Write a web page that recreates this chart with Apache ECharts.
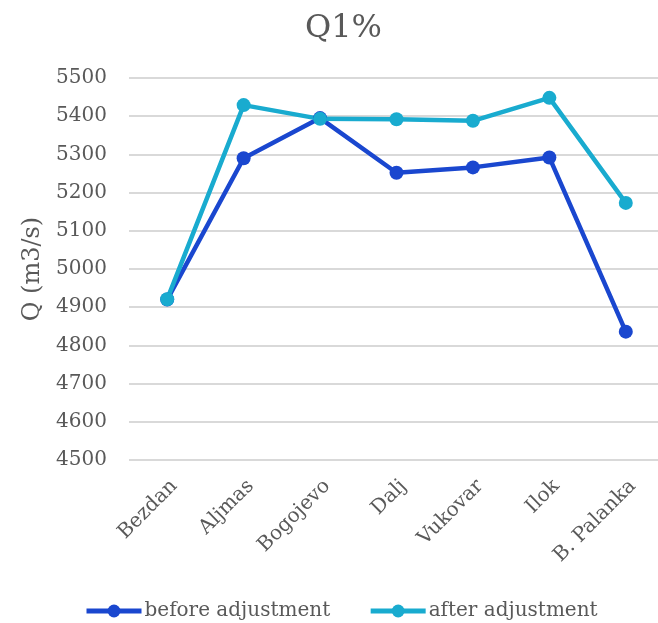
<!DOCTYPE html>
<html>
<head>
<meta charset="utf-8">
<script src="https://cdn.jsdelivr.net/npm/echarts@6/dist/echarts.min.js"></script>
<style>
  html, body { margin: 0; padding: 0; background: #fff; }
  #chart { width: 658px; height: 623px; }
</style>
</head>
<body>
<div id="chart"></div>
<script>
// stations along the river
const stations = ['Bezdan', 'Aljmas', 'Bogojevo', 'Dalj', 'Vukovar', 'Ilok', 'B. Palanka'];
// Q1% discharge, m3/s
const beforeAdjustment = [4920, 5290, 5395, 5252, 5266, 5292, 4836];
const afterAdjustment = [4921, 5429, 5393, 5392, 5388, 5448, 5173];
const yTicks = { min: 4500, max: 5500, step: 100 };

const font = 'DejaVu Serif';
const textColor = '#595959';

let chart = echarts.init(document.getElementById('chart'));
let option = {
  animation: false,
  title: {
    text: 'Q1%',
    left: 300,
    top: 8,
    textStyle: { fontFamily: font, fontSize: 32, fontWeight: 'normal', color: textColor }
  },
  legend: {
    left: 79,
    top: 596,
    itemWidth: 55,
    itemHeight: 16,
    itemGap: 38,
    lineStyle: { width: 5 },
    textStyle: { fontFamily: font, fontSize: 20, color: textColor, padding: [0, 0, 0, -2] }
  },
  grid: {
    left: 129,
    top: 78,
    width: 535,
    bottom: 163,
    outerBoundsMode: 'none'
  },
  xAxis: {
    type: 'category',
    data: stations,
    boundaryGap: true,
    axisLine: { show: false },
    axisTick: { show: false },
    axisLabel: {
      rotate: 45,
      margin: 16,
      verticalAlign: 'top',
      fontFamily: font,
      fontSize: 20,
      color: textColor
    }
  },
  yAxis: {
    type: 'value',
    min: yTicks.min,
    max: yTicks.max,
    interval: yTicks.step,
    name: 'Q (m3/s)',
    nameLocation: 'middle',
    nameGap: 82,
    nameTextStyle: { fontFamily: font, fontSize: 24, color: textColor },
    axisLine: { show: false },
    axisTick: { show: false },
    axisLabel: {
      margin: 22,
      fontFamily: font,
      fontSize: 20,
      color: textColor,
      formatter: v => String(v)
    },
    splitLine: { lineStyle: { color: '#d9d9d9', width: 2 } }
  },
  series: [
    {
      name: 'before adjustment',
      type: 'line',
      data: beforeAdjustment,
      symbol: 'circle',
      symbolSize: 14,
      lineStyle: { width: 4.5, color: '#1a47cf' },
      itemStyle: { color: '#1a47cf' }
    },
    {
      name: 'after adjustment',
      type: 'line',
      data: afterAdjustment,
      symbol: 'circle',
      symbolSize: 14,
      lineStyle: { width: 4.5, color: '#19abcf' },
      itemStyle: { color: '#19abcf' }
    }
  ]
};
option && chart.setOption(option);
</script>
</body>
</html>
